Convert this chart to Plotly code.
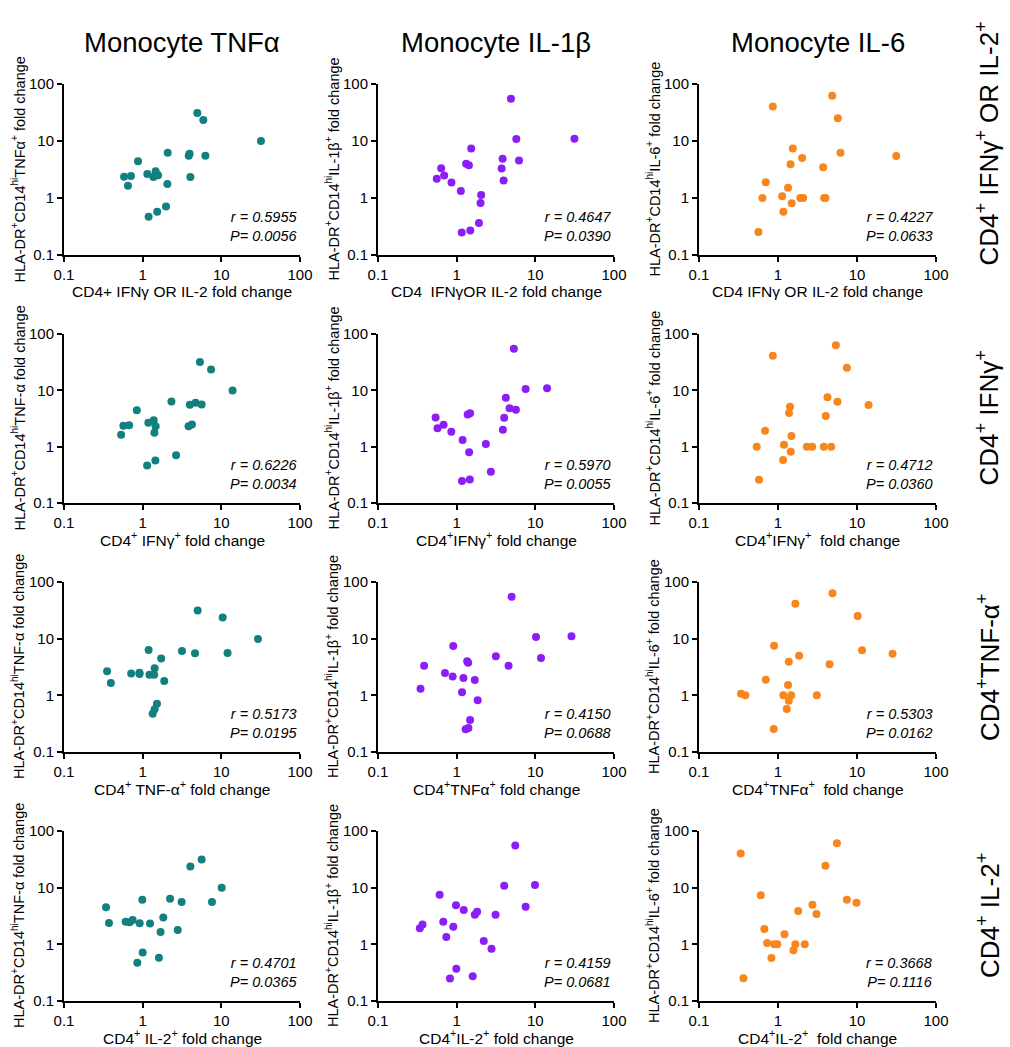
import plotly.graph_objects as go

# ---------------- data ----------------
col_titles = ["Monocyte TNFα", "Monocyte IL-1β", "Monocyte IL-6"]
row_titles = ["CD4<sup>+</sup> IFNγ<sup>+</sup> OR IL-2<sup>+</sup>", "CD4<sup>+</sup> IFNγ<sup>+</sup>",
              "CD4<sup>+</sup>TNF-α<sup>+</sup>", "CD4<sup>+</sup> IL-2<sup>+</sup>"]
tick_vals = [0.1, 1, 10, 100]
tick_text = ["0.1", "1", "10", "100"]

# Row 1: CD4 IFNγ OR IL-2
r1c1_x = [4.95, 5.9, 31.9, 2.08, 3.85, 3.95, 6.27, 0.873, 0.58, 0.71, 0.65, 1.146, 1.46, 1.37, 1.57, 2.06, 4.04, 1.98, 1.53, 1.19]
r1c1_y = [31.0, 23.3, 10.0, 6.2, 5.5, 6.0, 5.5, 4.4, 2.37, 2.43, 1.64, 2.64, 2.94, 2.33, 2.5, 1.76, 2.33, 0.71, 0.575, 0.47]
r1c2_x = [4.9, 5.73, 31.4, 1.53, 3.84, 6.2, 1.32, 1.43, 3.73, 3.95, 0.635, 0.694, 0.558, 0.859, 1.13, 2.05, 2.01, 1.92, 1.49, 1.16]
r1c2_y = [55, 10.8, 10.9, 7.4, 4.87, 4.55, 3.97, 3.77, 3.29, 2.03, 3.34, 2.48, 2.17, 1.87, 1.33, 1.13, 0.82, 0.365, 0.268, 0.247]
r1c3_x = [4.85, 0.86, 5.72, 1.54, 6.18, 31.4, 2.02, 1.44, 3.73, 0.70, 1.34, 0.635, 1.13, 1.92, 2.08, 3.84, 3.99, 1.49, 1.17, 0.565]
r1c3_y = [62.4, 40.5, 25.0, 7.4, 6.24, 5.46, 5.03, 3.9, 3.45, 1.88, 1.52, 1.0, 1.07, 1.0, 1.0, 1.0, 1.0, 0.805, 0.575, 0.254]

# Row 2: CD4 IFNγ
r2c1_x = [5.35, 7.4, 13.9, 2.32, 3.98, 4.71, 5.62, 0.843, 0.569, 0.673, 0.532, 1.18, 1.38, 1.46, 1.41, 3.83, 4.23, 2.66, 1.45, 1.14]
r2c1_y = [31.7, 23.5, 9.95, 6.34, 5.53, 6.0, 5.6, 4.45, 2.34, 2.41, 1.62, 2.65, 2.95, 2.31, 1.76, 2.31, 2.47, 0.705, 0.566, 0.461]
r2c2_x = [5.34, 7.53, 14.1, 4.22, 4.7, 5.66, 1.38, 1.48, 4.02, 3.87, 0.54, 0.571, 0.682, 0.855, 1.19, 2.35, 1.44, 2.72, 1.47, 1.17]
r2c2_y = [55, 10.6, 10.9, 7.35, 4.82, 4.5, 3.73, 3.93, 3.25, 1.99, 3.3, 2.13, 2.44, 1.84, 1.31, 1.11, 0.80, 0.359, 0.262, 0.245]
r2c3_x = [5.4, 0.86, 7.44, 4.23, 5.66, 14.0, 1.42, 1.38, 4.03, 0.685, 1.48, 0.538, 1.19, 2.32, 2.71, 3.80, 4.71, 1.45, 1.16, 0.575]
r2c3_y = [63, 41, 25.2, 7.57, 6.26, 5.47, 5.11, 3.95, 3.5, 1.91, 1.54, 1.0, 1.08, 1.0, 1.0, 1.0, 1.0, 0.81, 0.58, 0.258]

# Row 3: CD4 TNF-α
r3c1_x = [5.0, 10.4, 29.2, 1.19, 3.16, 4.63, 12.0, 1.72, 1.42, 0.353, 0.394, 0.714, 0.912, 0.912, 1.22, 1.40, 1.88, 1.52, 1.42, 1.34]
r3c1_y = [31.5, 23.7, 9.9, 6.33, 6.08, 5.53, 5.6, 4.45, 3.0, 2.65, 1.65, 2.44, 2.51, 2.38, 2.31, 2.31, 1.79, 0.71, 0.57, 0.471]
r3c2_x = [4.99, 10.2, 28.8, 0.905, 3.15, 11.8, 1.36, 1.40, 4.57, 0.386, 0.71, 0.889, 1.22, 1.70, 0.347, 1.17, 1.85, 1.48, 1.41, 1.30]
r3c2_y = [55, 10.7, 11.0, 7.42, 4.88, 4.56, 3.98, 3.77, 3.34, 3.34, 2.48, 2.16, 2.02, 1.87, 1.31, 1.13, 0.817, 0.367, 0.265, 0.251]
r3c3_x = [4.9, 1.66, 10.2, 0.893, 11.6, 28.2, 1.85, 1.37, 4.49, 0.70, 1.34, 0.34, 0.386, 1.17, 1.47, 3.1, 1.37, 1.29, 0.883]
r3c3_y = [63, 41.5, 25.1, 7.52, 6.22, 5.43, 5.01, 3.93, 3.52, 1.89, 1.52, 1.07, 1.0, 1.0, 1.0, 1.0, 0.805, 0.574, 0.255]

# Row 4: CD4 IL-2
r4c1_x = [5.62, 4.04, 10.1, 0.99, 2.23, 3.13, 7.6, 0.342, 0.373, 0.608, 0.684, 0.746, 0.916, 1.24, 1.83, 1.69, 2.79, 1.0, 1.61, 0.855]
r4c1_y = [31.3, 23.6, 9.95, 6.12, 6.37, 5.57, 5.57, 4.49, 2.38, 2.51, 2.45, 2.69, 2.35, 2.32, 2.99, 1.65, 1.79, 0.716, 0.578, 0.472]
r4c2_x = [5.56, 4.02, 9.9, 0.607, 7.53, 0.98, 1.23, 1.82, 1.70, 3.12, 0.676, 0.368, 0.34, 0.906, 0.738, 2.21, 2.77, 0.99, 1.6, 0.822]
r4c2_y = [55.2, 10.8, 11.1, 7.49, 4.61, 4.87, 4.03, 3.77, 3.34, 3.34, 2.51, 2.23, 1.92, 2.05, 1.35, 1.15, 0.832, 0.37, 0.272, 0.25]
r4c3_x = [5.56, 0.337, 3.99, 0.605, 7.44, 9.86, 2.73, 1.80, 3.07, 0.673, 1.21, 0.728, 0.894, 0.98, 1.66, 2.18, 1.57, 0.826, 0.365]
r4c3_y = [60.9, 40.2, 24.4, 7.38, 6.11, 5.42, 5.0, 3.87, 3.43, 1.87, 1.51, 1.06, 1.0, 1.0, 1.0, 1.0, 0.79, 0.574, 0.253]

x_data = [[r1c1_x, r1c2_x, r1c3_x], [r2c1_x, r2c2_x, r2c3_x], [r3c1_x, r3c2_x, r3c3_x], [r4c1_x, r4c2_x, r4c3_x]]
y_data = [[r1c1_y, r1c2_y, r1c3_y], [r2c1_y, r2c2_y, r2c3_y], [r3c1_y, r3c2_y, r3c3_y], [r4c1_y, r4c2_y, r4c3_y]]

r_vals = [["0.5955", "0.4647", "0.4227"], ["0.6226", "0.5970", "0.4712"],
          ["0.5173", "0.4150", "0.5303"], ["0.4701", "0.4159", "0.3668"]]
p_vals = [["0.0056", "0.0390", "0.0633"], ["0.0034", "0.0055", "0.0360"],
          ["0.0195", "0.0688", "0.0162"], ["0.0365", "0.0681", "0.1116"]]

y_titles = ["HLA-DR<sup>+</sup>CD14<sup>hi</sup>TNFα<sup>+</sup> fold change",
            "HLA-DR<sup>+</sup>CD14<sup>hi</sup>IL-1β<sup>+</sup> fold change",
            "HLA-DR<sup>+</sup>CD14<sup>hi</sup>IL-6<sup>+</sup> fold change"]
y_titles_lower_c1 = "HLA-DR<sup>+</sup>CD14<sup>hi</sup>TNF-α fold change"
x_titles = [["CD4+ IFNγ OR IL-2 fold change", "CD4  IFNγOR IL-2 fold change", "CD4 IFNγ OR IL-2 fold change"],
            ["CD4<sup>+</sup> IFNγ<sup>+</sup> fold change", "CD4<sup>+</sup>IFNγ<sup>+</sup> fold change", "CD4<sup>+</sup>IFNγ<sup>+</sup>  fold change"],
            ["CD4<sup>+</sup> TNF-α<sup>+</sup> fold change", "CD4<sup>+</sup>TNFα<sup>+</sup> fold change", "CD4<sup>+</sup>TNFα<sup>+</sup>  fold change"],
            ["CD4<sup>+</sup> IL-2<sup>+</sup> fold change", "CD4<sup>+</sup>IL-2<sup>+</sup> fold change", "CD4<sup>+</sup>IL-2<sup>+</sup>  fold change"]]

colors = ["#12807E", "#8A1EF5", "#F7861C"]

# ---------------- layout geometry (pixels) ----------------
W, H = 1010, 1047
col_px = [(64, 300), (378, 614), (699, 936)]
row_px = [(84, 255), (334, 503), (582, 752), (831, 1001)]
FONT = "Arial, Liberation Sans, sans-serif"


def fx(px):
    return px / W


def fy(py):
    return 1 - py / H


fig = go.Figure()
layout = dict(
    width=W, height=H, margin=dict(l=0, r=0, t=0, b=0, autoexpand=False),
    plot_bgcolor="white", paper_bgcolor="white", showlegend=False,
    font=dict(family=FONT, color="black"),
)
annotations = []

k = 0
for r in range(4):
    for c in range(3):
        k += 1
        xa = "x" if k == 1 else f"x{k}"
        ya = "y" if k == 1 else f"y{k}"
        fig.add_trace(go.Scatter(
            x=x_data[r][c], y=y_data[r][c], mode="markers", xaxis=xa, yaxis=ya,
            marker=dict(color=colors[c], size=8, line=dict(width=0)), cliponaxis=False,
        ))
        x0, x1 = col_px[c]
        y0, y1 = row_px[r]
        common = dict(type="log", range=[-1, 2], tickvals=tick_vals, ticktext=tick_text,
                      showline=True, linecolor="black", linewidth=2, ticks="outside",
                      ticklen=5, tickwidth=2, tickcolor="black", showgrid=False, zeroline=False,
                      tickfont=dict(family=FONT, size=15, color="black"), fixedrange=True,
                      automargin=False)
        layout["xaxis" if k == 1 else f"xaxis{k}"] = dict(
            common, domain=[fx(x0), fx(x1)], anchor=ya)
        layout["yaxis" if k == 1 else f"yaxis{k}"] = dict(
            common, domain=[fy(y1), fy(y0)], anchor=xa)

        # r / P annotation
        annotations.append(dict(
            xref="paper", yref="paper", x=fx(x1 - 1), y=fy(y1 - 9),
            xanchor="right", yanchor="bottom", align="right", showarrow=False,
            text=f"<i>r = {r_vals[r][c]}</i><br><i>P= {p_vals[r][c]}</i>",
            font=dict(family=FONT, size=14.5, color="black")))
        # x title
        annotations.append(dict(
            xref="paper", yref="paper", x=fx((x0 + x1) / 2), y=fy(y1 + 36),
            xanchor="center", yanchor="middle", showarrow=False,
            text=x_titles[r][c], font=dict(family=FONT, size=15.5, color="black")))
        # y title
        ytxt = y_titles[c] if not (c == 0 and r > 0) else y_titles_lower_c1
        annotations.append(dict(
            xref="paper", yref="paper", x=fx(x0 - 46), y=fy((y0 + y1) / 2),
            xanchor="center", yanchor="middle", textangle=-90, showarrow=False,
            text=ytxt, font=dict(family=FONT, size=14.5, color="black")))

for c in range(3):
    x0, x1 = col_px[c]
    annotations.append(dict(
        xref="paper", yref="paper", x=fx((x0 + x1) / 2), y=fy(42),
        xanchor="center", yanchor="middle", showarrow=False,
        text=col_titles[c], font=dict(family=FONT, size=27.5, color="black")))

for r in range(4):
    y0, y1 = row_px[r]
    annotations.append(dict(
        xref="paper", yref="paper", x=fx(988), y=fy((y0 + y1) / 2 - 26 if r == 0 else (y0 + y1) / 2),
        xanchor="center", yanchor="middle", textangle=-90, showarrow=False,
        text=row_titles[r], font=dict(family=FONT, size=26, color="black")))

layout["annotations"] = annotations
fig.update_layout(**layout)
fig.write_html("out.html", config={"displayModeBar": False},
               post_script="document.body.style.margin='0';document.body.style.overflow='hidden';")
